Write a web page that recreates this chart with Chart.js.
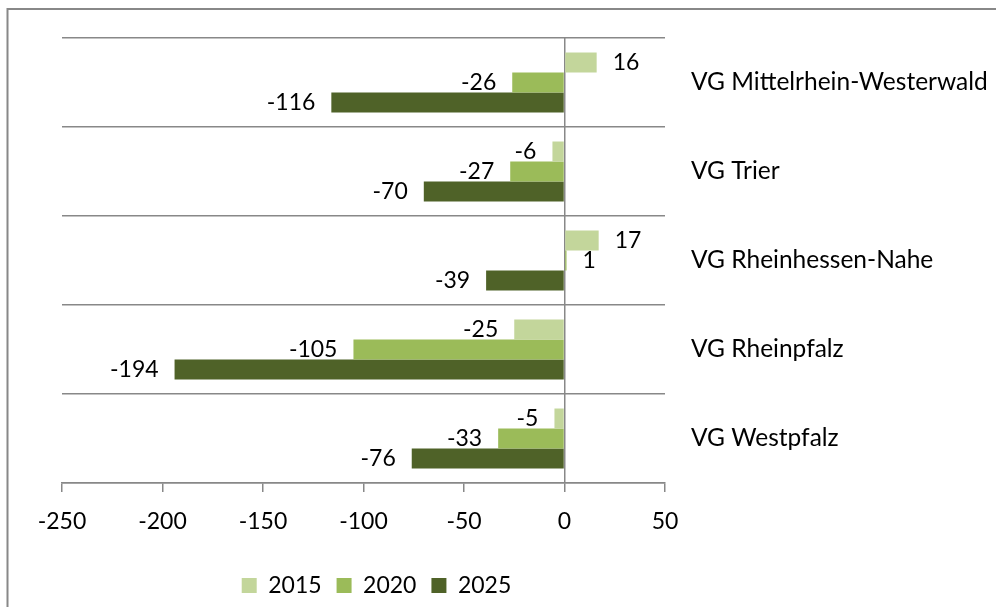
<!DOCTYPE html>
<html>
<head>
<meta charset="utf-8">
<script src="https://cdn.jsdelivr.net/npm/chart.js@4.4.1/dist/chart.umd.min.js"></script>
<style>
  html, body { margin: 0; padding: 0; background: #fff; }
  #wrap { width: 996px; height: 607px; position: relative; }
</style>
</head>
<body>
<div id="wrap"><canvas id="chart" width="996" height="607"></canvas></div>
<script>
// Values
const regions = ['VG Mittelrhein-Westerwald', 'VG Trier', 'VG Rheinhessen-Nahe', 'VG Rheinpfalz', 'VG Westpfalz'];
const years = ['2015', '2020', '2025'];
const values2015 = [16, -6, 17, -25, -5];
const values2020 = [-26, -27, 1, -105, -33];
const values2025 = [-116, -70, -39, -194, -76];
const xTicks = [-250, -200, -150, -100, -50, 0, 50];

const GRID = '#888888';
Chart.defaults.font.family = 'Lato';
Chart.defaults.font.size = 23;
Chart.defaults.color = '#000';

// value labels next to bar ends
const barLabels = {
  id: 'barLabels',
  afterDatasetsDraw(chart) {
    const ctx = chart.ctx;
    ctx.save();
    ctx.font = '23px Lato';
    ctx.fillStyle = '#000';
    ctx.textBaseline = 'middle';
    chart.data.datasets.forEach((ds, i) => {
      chart.getDatasetMeta(i).data.forEach((bar, j) => {
        const v = ds.data[j];
        ctx.textAlign = v < 0 ? 'right' : 'left';
        ctx.fillText(String(v), bar.x + (v < 0 ? -16 : 16), bar.y);
      });
    });
    ctx.restore();
  }
};

// outer chart frame (top + left edge visible)
const frame = {
  id: 'frame',
  beforeDraw(chart) {
    const ctx = chart.ctx;
    ctx.save();
    ctx.strokeStyle = GRID;
    ctx.lineWidth = 2;
    ctx.beginPath();
    ctx.moveTo(7.5, chart.height);
    ctx.lineTo(7.5, 9);
    ctx.lineTo(chart.width, 9);
    ctx.stroke();
    ctx.restore();
  }
};

// legend sits a bit right of the plot centre in the original
const legendShift = {
  id: 'legendShift',
  afterLayout(chart) {
    chart.legend.left += 13;
    chart.legend.right += 13;
  }
};

new Chart(document.getElementById('chart'), {
  type: 'bar',
  data: {
    labels: regions,
    datasets: [
      { label: years[0], data: values2015, backgroundColor: '#C3D69B' },
      { label: years[1], data: values2020, backgroundColor: '#9BBB59' },
      { label: years[2], data: values2025, backgroundColor: '#4F6228' }
    ]
  },
  options: {
    indexAxis: 'y',
    responsive: false,
    animation: false,
    categoryPercentage: 0.674,
    barPercentage: 1,
    layout: { padding: { top: 38, left: 62, right: 0, bottom: 0 } },
    plugins: {
      tooltip: { enabled: false },
      legend: {
        position: 'bottom',
        fullSize: false,
        labels: { boxWidth: 15, boxHeight: 15, padding: 15, font: { size: 23 } }
      }
    },
    scales: {
      x: {
        min: -250,
        max: 50,
        afterBuildTicks: s => { s.ticks = xTicks.map(v => ({ value: v })); },
        afterFit: s => { s.height = 76; },
        ticks: { padding: 16, font: { size: 23 } },
        grid: {
          color: c => (c.tick && c.tick.value === 0 ? GRID : 'rgba(0,0,0,0)'),
          tickColor: GRID,
          tickLength: 9,
          lineWidth: 1.5
        },
        border: { display: true, color: GRID, width: 1.5 }
      },
      y: {
        position: 'right',
        afterFit: s => { s.width = 331; s.paddingTop = 0; s.paddingBottom = 0; },
        ticks: { padding: 26, crossAlign: 'near', font: { size: 24.5 } },
        grid: { offset: true, color: GRID, lineWidth: 1.5, drawTicks: false },
        border: { display: false }
      }
    }
  },
  plugins: [frame, legendShift, barLabels]
});
</script>
</body>
</html>
